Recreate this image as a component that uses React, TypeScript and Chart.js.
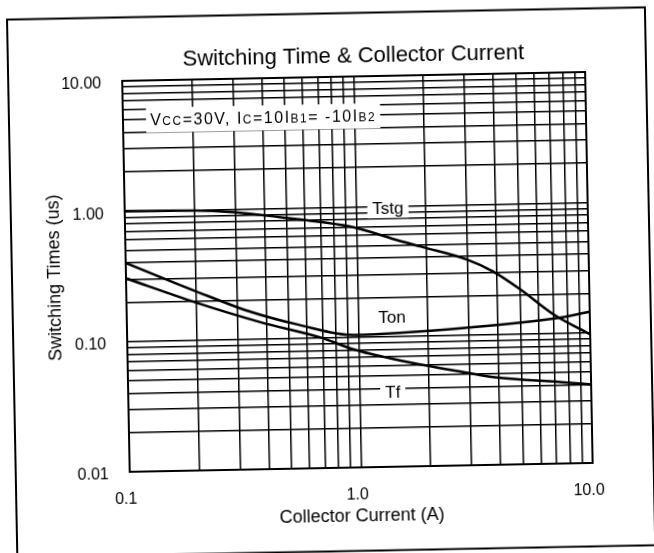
import { useEffect, useRef } from 'react';
import { Chart, registerables } from 'chart.js';

Chart.register(...registerables);

const FONT = 'Liberation Sans, Arial, Helvetica, sans-serif';

// Axis ticks and grid
const xTickValues = [0.1, 1, 10];
const xTickLabels = ['0.1', '1.0', '10.0'];
const yTickValues = [0.01, 0.1, 1, 10];
const yTickLabels = ['0.01', '0.10', '1.00', '10.00'];
const gridMantissas = [1, 2, 3, 4, 5, 6, 7, 8, 9];
const xDecades = [0.1, 1];
const yDecades = [0.01, 0.1, 1];

// Series (collector current in A, switching time in us)
const tstgCurrent = [0.1, 0.2, 0.29, 0.55, 0.96, 1.53, 1.92, 2.97, 3.85, 5.03, 7.0, 10];
const tstgTime = [1.0, 0.99, 0.95, 0.82, 0.7, 0.54, 0.48, 0.38, 0.305, 0.22, 0.139, 0.097];
const tonCurrent = [0.1, 0.2, 0.34, 0.55, 0.95, 2.97, 7.5, 10];
const tonTime = [0.4, 0.237, 0.163, 0.127, 0.104, 0.114, 0.132, 0.145];
const tfCurrent = [0.1, 0.2, 0.38, 0.69, 0.96, 1.86, 2.97, 3.85, 7.5, 10];
const tfTime = [0.305, 0.194, 0.134, 0.1, 0.08, 0.06, 0.051, 0.047, 0.042, 0.04];

// Curve labels placed in data coordinates
const curveLabels = ['Tstg', 'Ton', 'Tf'];
const curveLabelX = [1.37, 1.4, 1.39];
const curveLabelY = [0.95, 0.139, 0.037];

// Test-condition note
const noteX = 0.131;
const noteY = 5;
const noteParts = ['V', 'CC', '=30V, I', 'C', '=10I', 'B1', '= -10I', 'B2'];
const noteIsSub = [false, true, false, true, false, true, false, true];

function gridTicks(decades: number[], last: number) {
  const vals: number[] = [];
  decades.forEach((d) => gridMantissas.forEach((m) => vals.push(parseFloat((m * d).toPrecision(6)))));
  vals.push(last);
  return vals;
}

function labelFor(values: number[], labels: string[], v: number) {
  for (let i = 0; i < values.length; i++) {
    if (Math.abs(values[i] - v) < 1e-9 * Math.max(1, v)) return labels[i];
  }
  return '';
}

const framePlugin = {
  id: 'frame',
  beforeDraw(chart: any) {
    const ctx = chart.ctx;
    ctx.save();
    ctx.fillStyle = '#fff';
    ctx.fillRect(0, 0, chart.width, chart.height);
    ctx.strokeStyle = '#000';
    ctx.lineWidth = 2;
    ctx.strokeRect(12, 13.5, 638, 538);
    ctx.restore();
  },
  afterDraw(chart: any) {
    const ctx = chart.ctx;
    const a = chart.chartArea;
    const xs = chart.scales.x;
    const ys = chart.scales.y;
    ctx.save();
    ctx.strokeStyle = '#000';
    ctx.lineWidth = 2;
    ctx.strokeRect(a.left, a.top, a.right - a.left, a.bottom - a.top);

    // curve labels
    ctx.font = `17px ${FONT}`;
    ctx.textAlign = 'center';
    ctx.textBaseline = 'middle';
    curveLabels.forEach((t, i) => {
      const px = xs.getPixelForValue(curveLabelX[i]);
      const py = ys.getPixelForValue(curveLabelY[i]);
      const w = ctx.measureText(t).width;
      ctx.fillStyle = '#fff';
      ctx.fillRect(px - w / 2 - 5, py - 9, w + 10, 18);
      ctx.fillStyle = '#000';
      ctx.fillText(t, px, py);
    });

    // condition note
    const nx = xs.getPixelForValue(noteX);
    const ny = ys.getPixelForValue(noteY);
    (ctx as any).letterSpacing = '1.5px';
    let total = 0;
    const widths = noteParts.map((p, i) => {
      ctx.font = noteIsSub[i] ? `12px ${FONT}` : `16px ${FONT}`;
      const w = ctx.measureText(p).width;
      total += w;
      return w;
    });
    ctx.fillStyle = '#fff';
    ctx.fillRect(nx - 4, ny - 12, total + 8, 25);
    ctx.fillStyle = '#000';
    ctx.textAlign = 'left';
    ctx.textBaseline = 'alphabetic';
    let cx = nx;
    noteParts.forEach((p, i) => {
      ctx.font = noteIsSub[i] ? `12px ${FONT}` : `16px ${FONT}`;
      ctx.fillText(p, cx, ny + 6);
      cx += widths[i];
    });
    (ctx as any).letterSpacing = '0px';
    ctx.restore();
  },
};

export default function App() {
  const ref = useRef<HTMLCanvasElement | null>(null);

  useEffect(() => {
    if (!ref.current) return;
    const xGrid = gridTicks(xDecades, 10);
    const yGrid = gridTicks(yDecades, 10);
    const line = (label: string, xs: number[], ys: number[]) => ({
      label,
      data: xs.map((x, i) => ({ x, y: ys[i] })),
      borderColor: '#000',
      borderWidth: 2.5,
      pointRadius: 0,
      fill: false,
      cubicInterpolationMode: 'monotone' as const,
    });
    const chart = new Chart(ref.current, {
      type: 'line',
      data: {
        datasets: [
          line('Tstg', tstgCurrent, tstgTime),
          line('Ton', tonCurrent, tonTime),
          line('Tf', tfCurrent, tfTime),
        ],
      },
      options: {
        animation: false,
        responsive: false,
        layout: { padding: { left: 0, right: 65, top: 0, bottom: 0 } },
        plugins: {
          legend: { display: false },
          tooltip: { enabled: false },
          title: {
            display: true,
            fullSize: false,
            text: 'Switching Time & Collector Current',
            color: '#000',
            font: { family: FONT, size: 22, weight: 'normal' },
            padding: { top: 43.3, bottom: 7.3 },
          },
        },
        scales: {
          x: {
            type: 'logarithmic',
            min: 0.1,
            max: 10,
            afterBuildTicks: (s: any) => {
              s.ticks = xGrid.map((v) => ({ value: v }));
            },
            afterFit: (s: any) => {
              s.height = 85;
            },
            ticks: {
              autoSkip: false,
              maxRotation: 0,
              padding: 18,
              labelOffset: -4,
              color: '#000',
              font: { family: FONT, size: 16 },
              callback: (v: any) => labelFor(xTickValues, xTickLabels, Number(v)),
            },
            grid: { color: '#000', lineWidth: 1.5, drawTicks: false },
            border: { color: '#000', width: 2 },
            title: {
              display: true,
              text: 'Collector Current (A)',
              color: '#000',
              font: { family: FONT, size: 18 },
              padding: { top: 0, bottom: 24.7 },
            },
          },
          y: {
            type: 'logarithmic',
            min: 0.01,
            max: 10,
            afterBuildTicks: (s: any) => {
              s.ticks = yGrid.map((v) => ({ value: v }));
            },
            afterFit: (s: any) => {
              s.width = 126;
            },
            ticks: {
              autoSkip: false,
              padding: 21,
              labelOffset: 3,
              color: '#000',
              font: { family: FONT, size: 16 },
              callback: (v: any) => labelFor(yTickValues, yTickLabels, Number(v)),
            },
            grid: { color: '#000', lineWidth: 1.5, drawTicks: false },
            border: { color: '#000', width: 2 },
            title: {
              display: true,
              text: 'Switching Times (us)',
              color: '#000',
              font: { family: FONT, size: 18 },
              padding: { top: 44.2, bottom: 0 },
            },
          },
        },
      },
      plugins: [framePlugin],
    });
    return () => chart.destroy();
  }, []);

  return (
    <div
      style={{
        position: 'absolute',
        left: 0,
        top: 0,
        width: 654,
        height: 553,
        background: '#fff',
        transform: 'rotate(-1.1deg)',
        transformOrigin: '327px 276.5px',
      }}
    >
      <canvas ref={ref} width={654} height={553} style={{ display: 'block', width: 654, height: 553 }} />
    </div>
  );
}
